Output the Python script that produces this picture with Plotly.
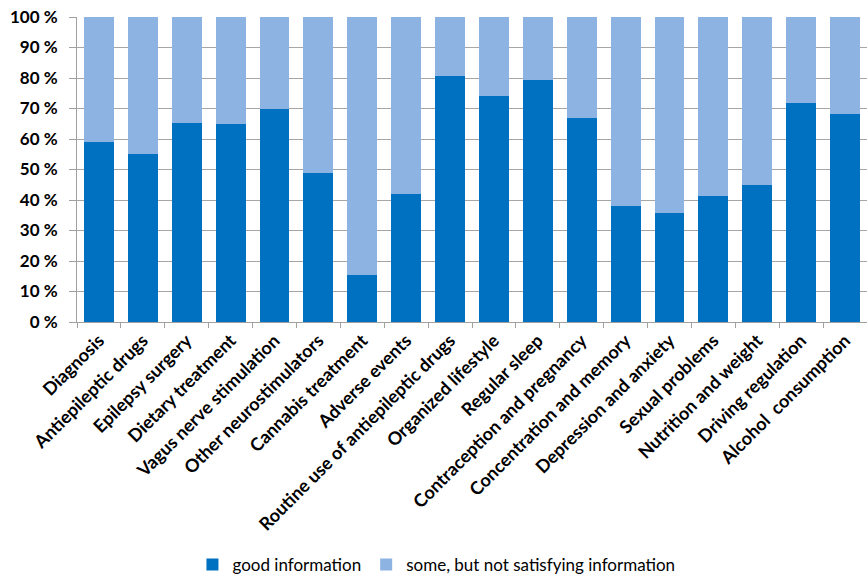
import plotly.graph_objects as go

categories = ["Diagnosis", "Antiepileptic drugs", "Epilepsy surgery", "Dietary treatment",
              "Vagus nerve stimulation", "Other neurostimulators", "Cannabis treatment",
              "Adverse events", "Routine use of antiepileptic drugs", "Organized lifestyle",
              "Regular sleep", "Contraception and pregnancy", "Concentration and memory",
              "Depression and anxiety", "Sexual problems", "Nutrition and weight",
              "Driving regulation", "Alcohol  consumption"]
good = [59, 55, 65.3, 65, 70, 49, 15.4, 42, 80.5, 74.2, 79.3, 67, 38, 35.6, 41.2, 44.9, 71.8, 68.2]
some = [100 - g for g in good]
ytick_vals = [0, 10, 20, 30, 40, 50, 60, 70, 80, 90, 100]
ytick_text = [f"{v} %" for v in ytick_vals]

FONT = "Lato"
fig = go.Figure()
fig.add_bar(x=categories, y=good, name="good information", marker_color="#0070C0",
            marker_line_width=0)
fig.add_bar(x=categories, y=some, name="some, but not satisfying information",
            marker_color="#8DB3E2", marker_line_width=0)

fig.update_layout(
    barmode="stack", bargap=0.32,
    width=867, height=583,
    margin=dict(l=77, r=0, t=17, b=260),
    plot_bgcolor="white", paper_bgcolor="white",
    font=dict(family=FONT, size=15, color="#000000"),
    legend=dict(orientation="h", x=0.455, xanchor="center", y=-0.795, yanchor="middle",
                font=dict(family=FONT, size=17, color="#000000"), itemwidth=30,
                traceorder="normal", tracegroupgap=0),
    showlegend=True,
)
fig.update_xaxes(
    type="category", range=[-0.5, 17.5], tickangle=-45,
    ticks="outside", ticklen=5, tickcolor="#A0A0A0", tickson="boundaries",
    showline=True, linecolor="#A0A0A0", linewidth=1,
    tickfont=dict(family=FONT, size=18, color="#000000", weight="bold"),
    showgrid=False,
)
fig.update_yaxes(
    range=[0, 100], tickvals=ytick_vals, ticktext=ytick_text,
    ticks="outside", ticklen=7, tickcolor="#A0A0A0", ticklabelstandoff=8,
    showline=True, linecolor="#A0A0A0", linewidth=1,
    showgrid=True, gridcolor="#A6A6A6", gridwidth=1,
    tickfont=dict(family=FONT, size=17, color="#000000", weight="bold"),
    zeroline=False,
)
fig.write_html("out.html")
